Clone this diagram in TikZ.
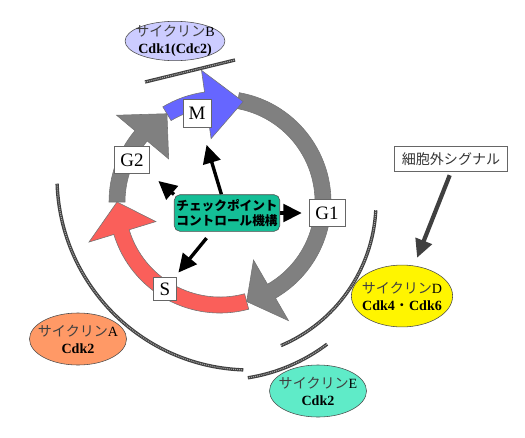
\documentclass[tikz,border=0pt]{standalone}
\usepackage{fontspec}
\setmainfont{Liberation Serif}
\newfontfamily\jp{Noto Sans CJK JP}
\usetikzlibrary{arrows.meta,shapes.geometric,backgrounds}

\definecolor{ringgray}{RGB}{128,128,128}
\definecolor{ringblue}{RGB}{102,102,255}
\definecolor{ringred}{RGB}{250,95,90}
\definecolor{chkteal}{RGB}{20,190,150}
\definecolor{cycBfill}{RGB}{204,204,255}
\definecolor{cycAfill}{RGB}{255,153,102}
\definecolor{cycDfill}{RGB}{255,245,0}
\definecolor{cycEfill}{RGB}{95,235,200}

\tikzset{
  phase/.style={draw=black!60, fill=white, inner sep=0pt, font=\fontsize{13.5}{14}\selectfont},
  cyclin/.style={ellipse, draw=black!70, inner sep=0pt},
  cyctext/.style={align=center, inner sep=0pt, font=\fontsize{10}{12}\selectfont},
  rope/.style={line width=2.4pt, draw=black!75,
    postaction={draw=black!35, line width=0.8pt, dash pattern=on 0.7pt off 0.7pt}},
  chkarrow/.style={line width=2.4pt, -{Triangle[length=13pt,width=12.5pt]}},
  sigarrow/.style={line width=3pt, draw=black!75, -{Triangle[length=13pt,width=12pt]}}
}

\begin{document}
\begin{tikzpicture}[x=0.025cm,y=0.025cm]
    \useasboundingbox (0,0) rectangle (525,437);

    % Cell cycle ring
    \begin{scope}[shift={(220,235)}, draw=black!55, line width=0.4pt]
        \filldraw[fill=ringgray] (180:111) arc[start angle=180, end angle=140, radius=111]
            -- (140:135) -- (121:103) -- (140:67) -- (140:95)
            arc[start angle=140, end angle=180, radius=95] -- cycle;
        \filldraw[fill=ringred] (-75:111) arc[start angle=-75, end angle=-163, radius=111]
            -- (-163:137) -- (-180:103) -- (-163:67) -- (-163:95)
            arc[start angle=-163, end angle=-75, radius=95] -- cycle;
        \filldraw[fill=ringgray] (80:111) arc[start angle=80, end angle=-60, radius=111]
            -- (-60:137) -- (-75:103) -- (-60:67) -- (-60:95)
            arc[start angle=-60, end angle=80, radius=95] -- cycle;
        \filldraw[fill=ringblue] (121:111) arc[start angle=121, end angle=98, radius=111]
            -- (98:133) -- (77:103) -- (98:64) -- (98:95)
            arc[start angle=98, end angle=121, radius=95] -- cycle;
    \end{scope}

    % Outer arcs
    \draw[rope] (145,355) -- (235,377);
    \draw[rope] (250,260) ++(182:193) arc[start angle=182, end angle=268, radius=193];
    \draw[rope] (220,235) ++(-3:156) arc[start angle=-3, end angle=-67, radius=156];
    \draw[rope] (220,235) ++(-53:178) arc[start angle=-53, end angle=-81, radius=178];

    % Phases
    \node[phase, minimum width=20pt, minimum height=20pt] (M) at (197,324) {M};
    \node[phase, minimum width=25pt, minimum height=19pt] (G2) at (132,277) {G2};
    \node[phase, minimum width=25.6pt, minimum height=19pt] (G1) at (327,224) {G1};
    \node[phase, minimum width=16pt, minimum height=16pt] (S) at (165,148) {S};

    % Checkpoint control
    \node[draw=black!70, fill=chkteal, rounded corners=4pt, minimum width=75pt,
          minimum height=26pt, inner sep=1pt, align=center,
          font=\jp\bfseries\fontsize{9}{11}\selectfont] (chk) at (227,224)
          {チェックポイント\\コントロール機構};
    \begin{scope}[on background layer]
        \draw[chkarrow, shorten >=13pt] (chk) -- (M);
        \draw[chkarrow, shorten >=8pt] (chk.north west) -- (G2.south east);
        \draw[chkarrow, shorten >=5pt] (chk) -- (G1);
        \draw[chkarrow, shorten <=6pt, shorten >=4.5pt] (chk) -- (S);
    \end{scope}

    % Cyclins
    \node[cyclin, fill=cycBfill, minimum width=71pt, minimum height=28pt] (cycB) at (175,396) {};
    \node[cyctext] (cycBtext) at (cycB) {{\jp\color{black!75}サイクリン}B\\\textbf{Cdk1(Cdc2)}};
    \node[cyclin, fill=cycAfill, minimum width=69pt, minimum height=37pt] (cycA) at (78,98) {};
    \node[cyctext] (cycAtext) at (cycA) {{\jp\color{black!75}サイクリン}A\\\textbf{Cdk2}};
    \node[cyclin, fill=cycDfill, minimum width=72pt, minimum height=44pt] (cycD) at (402,141) {};
    \node[cyctext] (cycDtext) at (cycD) {{\jp\color{black!75}サイクリン}D\\\textbf{Cdk4}{\jp ・}\textbf{Cdk6}};
    \node[cyclin, fill=cycEfill, minimum width=69pt, minimum height=37pt] (cycE) at (318,46) {};
    \node[cyctext] (cycEtext) at (cycE) {{\jp\color{black!75}サイクリン}E\\\textbf{Cdk2}};

    % Extracellular signal
    \node[draw=black!60, minimum width=80pt, minimum height=18pt, inner sep=1pt,
          font=\jp\fontsize{10}{12}\selectfont, text=black!80] (signal) at (451,278) {細胞外シグナル};
    \draw[sigarrow, shorten <=2.5pt, shorten >=6pt] (signal.south) -- (cycD);
\end{tikzpicture}
\end{document}
